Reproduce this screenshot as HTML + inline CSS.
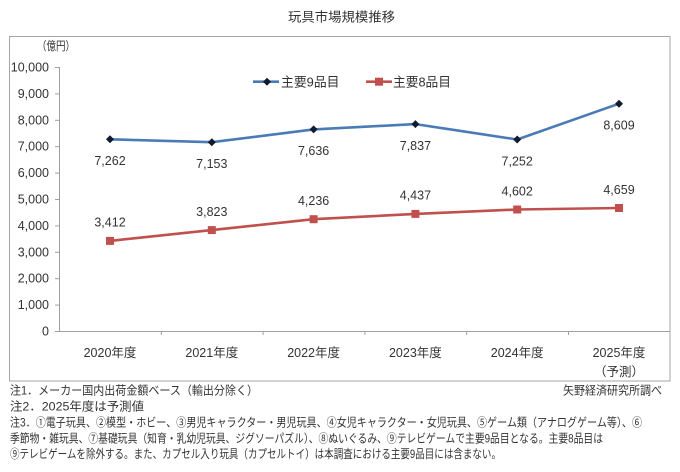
<!DOCTYPE html>
<html><head><meta charset="utf-8"><style>
html,body{margin:0;padding:0;background:#fff;}
svg{display:block;}
text{font-family:"Liberation Sans","Noto Sans CJK JP",sans-serif;fill:#333;}
</style></head><body>
<svg width="680" height="472" viewBox="0 0 680 472" xmlns="http://www.w3.org/2000/svg">
<rect x="0" y="0" width="680" height="472" fill="#fff"/>
<text x="341.5" y="21.5" font-size="13" text-anchor="middle" textLength="107" lengthAdjust="spacingAndGlyphs">玩具市場規模推移</text>
<rect x="9.5" y="36.5" width="660.5" height="344.5" fill="#fff" stroke="#a6a6a6" stroke-width="1"/>
<text x="37" y="50" font-size="12" textLength="38" lengthAdjust="spacingAndGlyphs">（億円）</text>
<g stroke="#a0a0a0" stroke-width="1" fill="none">
<line x1="59.5" y1="67" x2="59.5" y2="331"/>
<line x1="59" y1="331.5" x2="670" y2="331.5"/>
<line x1="55" y1="67.5" x2="59" y2="67.5"/>
<line x1="55" y1="93.9" x2="59" y2="93.9"/>
<line x1="55" y1="120.3" x2="59" y2="120.3"/>
<line x1="55" y1="146.7" x2="59" y2="146.7"/>
<line x1="55" y1="173.1" x2="59" y2="173.1"/>
<line x1="55" y1="199.5" x2="59" y2="199.5"/>
<line x1="55" y1="225.9" x2="59" y2="225.9"/>
<line x1="55" y1="252.3" x2="59" y2="252.3"/>
<line x1="55" y1="278.7" x2="59" y2="278.7"/>
<line x1="55" y1="305.1" x2="59" y2="305.1"/>
<line x1="55" y1="331.5" x2="59" y2="331.5"/>
<line x1="161.3" y1="331" x2="161.3" y2="335"/>
<line x1="263.1" y1="331" x2="263.1" y2="335"/>
<line x1="364.9" y1="331" x2="364.9" y2="335"/>
<line x1="466.7" y1="331" x2="466.7" y2="335"/>
<line x1="568.5" y1="331" x2="568.5" y2="335"/>
</g>
<g font-size="12.5" text-anchor="end">
<text x="49" y="71.5">10,000</text>
<text x="49" y="97.9">9,000</text>
<text x="49" y="124.3">8,000</text>
<text x="49" y="150.7">7,000</text>
<text x="49" y="177.1">6,000</text>
<text x="49" y="203.5">5,000</text>
<text x="49" y="229.9">4,000</text>
<text x="49" y="256.3">3,000</text>
<text x="49" y="282.7">2,000</text>
<text x="49" y="309.1">1,000</text>
<text x="49" y="335.5">0</text>
</g>
<g font-size="12.5" text-anchor="middle">
<text x="110" y="357">2020年度</text>
<text x="211.8" y="357">2021年度</text>
<text x="313.6" y="357">2022年度</text>
<text x="415.4" y="357">2023年度</text>
<text x="517.2" y="357">2024年度</text>
<text x="619" y="357">2025年度</text>
<text x="619" y="376">（予測）</text>
</g>
<!-- blue series -->
<polyline points="110,139.3 211.8,142.2 313.6,129.4 415.4,124.1 517.2,139.5 619,103.7" fill="none" stroke="#4a7bb7" stroke-width="2.6" stroke-linejoin="round"/>
<g fill="#111a2e">
<path d="M110,135.3 L114,139.3 L110,143.3 L106,139.3Z"/>
<path d="M211.8,138.2 L215.8,142.2 L211.8,146.2 L207.8,142.2Z"/>
<path d="M313.6,125.4 L317.6,129.4 L313.6,133.4 L309.6,129.4Z"/>
<path d="M415.4,120.1 L419.4,124.1 L415.4,128.1 L411.4,124.1Z"/>
<path d="M517.2,135.5 L521.2,139.5 L517.2,143.5 L513.2,139.5Z"/>
<path d="M619,99.7 L623,103.7 L619,107.7 L615,103.7Z"/>
</g>
<!-- red series -->
<polyline points="110,240.9 211.8,230.1 313.6,219.2 415.4,213.9 517.2,209.5 619,208" fill="none" stroke="#c0504d" stroke-width="2.6" stroke-linejoin="round"/>
<g fill="#c0504d">
<rect x="106" y="236.9" width="8" height="8"/>
<rect x="207.8" y="226.1" width="8" height="8"/>
<rect x="309.6" y="215.2" width="8" height="8"/>
<rect x="411.4" y="209.9" width="8" height="8"/>
<rect x="513.2" y="205.5" width="8" height="8"/>
<rect x="615" y="204" width="8" height="8"/>
</g>
<g font-size="12.5" text-anchor="middle">
<text x="110" y="165.1">7,262</text>
<text x="211.8" y="168">7,153</text>
<text x="313.6" y="155.2">7,636</text>
<text x="415.4" y="149.9">7,837</text>
<text x="517.2" y="165.3">7,252</text>
<text x="619" y="129.5">8,609</text>
<text x="110" y="226.7">3,412</text>
<text x="211.8" y="215.9">3,823</text>
<text x="313.6" y="205">4,236</text>
<text x="415.4" y="199.7">4,437</text>
<text x="517.2" y="195.3">4,602</text>
<text x="619" y="193.8">4,659</text>
</g>
<!-- legend -->
<line x1="253" y1="81.7" x2="279" y2="81.7" stroke="#4a7bb7" stroke-width="2.6"/>
<path d="M267,77.7 L271,81.7 L267,85.7 L263,81.7Z" fill="#111a2e"/>
<text x="281" y="86.5" font-size="13" textLength="58.5" lengthAdjust="spacingAndGlyphs">主要9品目</text>
<line x1="366" y1="81.7" x2="392" y2="81.7" stroke="#c0504d" stroke-width="2.6"/>
<rect x="375" y="77.7" width="8" height="8" fill="#c0504d"/>
<text x="393" y="86.5" font-size="13" textLength="58" lengthAdjust="spacingAndGlyphs">主要8品目</text>
<!-- notes -->
<g font-size="12">
<text x="10" y="394.5" textLength="248" lengthAdjust="spacingAndGlyphs">注1．メーカー国内出荷金額ベース（輸出分除く）</text>
<text x="563" y="394.5" textLength="99" lengthAdjust="spacingAndGlyphs">矢野経済研究所調べ</text>
<text x="10" y="410.5" textLength="134" lengthAdjust="spacingAndGlyphs">注2．2025年度は予測値</text>
<text x="10" y="426.5" textLength="632" lengthAdjust="spacingAndGlyphs">注3．①電子玩具、②模型・ホビー、③男児キャラクター・男児玩具、④女児キャラクター・女児玩具、⑤ゲーム類（アナログゲーム等）、⑥</text>
<text x="10" y="442.5" textLength="593" lengthAdjust="spacingAndGlyphs">季節物・雑玩具、⑦基礎玩具（知育・乳幼児玩具、ジグソーパズル）、⑧ぬいぐるみ、⑨テレビゲームで主要9品目となる。主要8品目は</text>
<text x="10" y="458" textLength="491" lengthAdjust="spacingAndGlyphs">⑨テレビゲームを除外する。また、カプセル入り玩具（カプセルトイ）は本調査における主要9品目には含まない。</text>
</g>
</svg>
</body></html>
